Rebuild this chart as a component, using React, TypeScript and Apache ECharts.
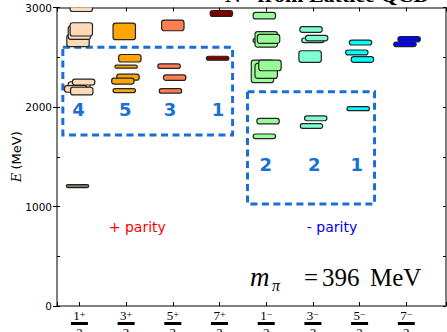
import React, { useEffect, useRef } from 'react';
import * as echarts from 'echarts';

// x-axis categories: J^P = numerator/2 with parity
const numerators = ['1', '3', '5', '7', '1', '3', '5', '7'];
const parities = ['+', '+', '+', '+', '−', '−', '−', '−'];

const palette: Record<string, string> = {
  ground: '#857a6a',
  peach: '#ffdab9',
  orange: '#ffa500',
  coral: '#ff7f50',
  maroon: '#800000',
  green: '#98fb98',
  aqua: '#7fffd4',
  cyan: '#00ffff',
  blue: '#0000ff',
};

// each level: [horizontal offset, energy (MeV), band height (MeV), colour]
const half1Plus: [number, number, number, string][] = [
  [-0.04, 1205, 30, 'ground'],
  [0, 2226, 56, 'peach'],
  [0.09, 2251, 60, 'peach'],
  [-0.08, 2181, 66, 'peach'],
  [0.05, 2160, 77, 'peach'],
  [-0.03, 2665, 118, 'peach'],
  [0, 2747, 134, 'peach'],
  [0.04, 2780, 133, 'peach'],
  [0.04, 3010, 100, 'peach'],
];
const half3Plus: [number, number, number, string][] = [
  [-0.04, 2760, 166, 'orange'],
  [0.08, 2490, 75, 'orange'],
  [0, 2405, 30, 'orange'],
  [0.04, 2300, 60, 'orange'],
  [-0.07, 2260, 60, 'orange'],
  [-0.04, 2165, 40, 'orange'],
];
const half5Plus: [number, number, number, string][] = [
  [0, 2820, 107, 'coral'],
  [-0.08, 2410, 45, 'coral'],
  [0.04, 2295, 55, 'coral'],
  [-0.05, 2162, 45, 'coral'],
];
const half7Plus: [number, number, number, string][] = [
  [0.04, 2940, 60, 'maroon'],
  [-0.04, 2490, 40, 'maroon'],
];
const half1Minus: [number, number, number, string][] = [
  [-0.04, 2918, 65, 'green'],
  [-0.04, 2668, 44, 'green'],
  [0, 2680, 157, 'green'],
  [0.05, 2685, 90, 'green'],
  [-0.08, 2358, 228, 'green'],
  [0, 2363, 151, 'green'],
  [0.08, 2418, 107, 'green'],
  [0.04, 1858, 57, 'green'],
  [-0.04, 1705, 47, 'green'],
];
const half3Minus: [number, number, number, string][] = [
  [-0.04, 2779, 56, 'aqua'],
  [0, 2670, 47, 'aqua'],
  [0.08, 2693, 55, 'aqua'],
  [-0.06, 2507, 117, 'aqua'],
  [0.06, 1886, 48, 'aqua'],
  [-0.03, 1809, 46, 'aqua'],
];
const half5Minus: [number, number, number, string][] = [
  [0.02, 2648, 50, 'cyan'],
  [-0.06, 2548, 50, 'cyan'],
  [0.06, 2477, 57, 'cyan'],
  [-0.03, 1983, 40, 'cyan'],
];
const half7Minus: [number, number, number, string][] = [
  [0.06, 2681, 51, 'blue'],
  [-0.03, 2630, 47, 'blue'],
];

const columns = [half1Plus, half3Plus, half5Plus, half7Plus, half1Minus, half3Minus, half5Minus, half7Minus];

// dashed boxes: [x1, E1, x2, E2]
const plusBox = [0.645, 1719, 4.28, 2600];
const minusBox = [4.6, 1025, 7.32, 2154];

// box counts
const countLabels = ['4', '5', '3', '1', '2', '2', '1'];
const countX = [0.98, 1.98, 2.94, 3.97, 4.99, 6.03, 6.94];
const countE = [1975, 1975, 1975, 1975, 1422, 1422, 1422];

// parity labels
const parityLabels = ['+ parity', '- parity'];
const parityColors = ['#ff0000', '#0000ff'];
const parityX = [2.24, 6.41];
const parityE = [794, 794];

const BOX_W = 0.48;
const BLUE = '#1a6ed8';
const colorKeys = Object.keys(palette);

export default function App() {
  const ref = useRef<HTMLDivElement>(null);
  useEffect(() => {
    if (!ref.current) return;
    const chart = echarts.init(ref.current, undefined, { renderer: 'svg' });

    const levelData: number[][] = [];
    columns.forEach((col, ci) => {
      col.forEach((l) => {
        levelData.push([ci + 1, l[0], l[1], l[2], colorKeys.indexOf(l[3])]);
      });
    });

    const xFormatter = (v: number) => {
      const i = Math.round(v);
      if (Math.abs(v - i) > 1e-6 || i < 1 || i > 8) return '';
      return `{n|${numerators[i - 1]}}{s|${parities[i - 1]}}\n{b| }\n{d|2}`;
    };

    const xCommon = {
      type: 'value',
      min: 0.52,
      max: 8.85,
      minInterval: 1,
      maxInterval: 1,
      splitLine: { show: false },
    };

    const option: any = {
      animation: false,
      backgroundColor: '#ffffff',
      grid: { left: 57, right: 1, top: 7.5, bottom: 26, containLabel: false, outerBoundsMode: 'none' },
      xAxis: [
        {
          ...xCommon,
          position: 'bottom',
          axisLine: { show: true, onZero: false, lineStyle: { color: '#555', width: 1.5 } },
          axisTick: { show: true, inside: true, length: 4, lineStyle: { color: '#000' } },
          axisLabel: {
            margin: 3,
            formatter: xFormatter,
            color: '#000',
            rich: {
              n: { fontFamily: 'Liberation Serif', fontSize: 13, lineHeight: 12 },
              s: { fontFamily: 'Liberation Serif', fontSize: 10, lineHeight: 12, verticalAlign: 'top' },
              b: { width: 17, height: 3, backgroundColor: '#000', fontSize: 1, lineHeight: 5 },
              d: { fontFamily: 'Liberation Serif', fontSize: 13, lineHeight: 12 },
            },
          },
        },
        {
          ...xCommon,
          position: 'top',
          axisLine: { show: true, onZero: false, lineStyle: { color: '#555', width: 1.5 } },
          axisTick: { show: true, inside: true, length: 4, lineStyle: { color: '#000' } },
          axisLabel: { show: false },
        },
      ],
      yAxis: [
        {
          type: 'value',
          min: 0,
          max: 3000,
          interval: 1000,
          position: 'left',
          splitLine: { show: false },
          axisLine: { show: true, onZero: false, lineStyle: { color: '#555', width: 1.5 } },
          axisTick: { show: true, inside: false, length: 4, lineStyle: { color: '#000' } },
          axisLabel: {
            margin: 5,
            color: '#000',
            fontFamily: 'DejaVu Sans',
            fontSize: 10.5,
            formatter: (v: number) => String(v),
          },
          name: '{e|E} {t|(MeV)}',
          nameLocation: 'middle',
          nameGap: 34,
          nameMoveOverlap: false,
          nameTextStyle: {
            rich: {
              e: { fontFamily: 'DejaVu Serif', fontStyle: 'italic', fontSize: 13, color: '#000' },
              t: { fontFamily: 'DejaVu Sans', fontSize: 13, color: '#000' },
            },
          },
        },
        {
          type: 'value',
          min: 0,
          max: 3000,
          interval: 500,
          position: 'right',
          splitLine: { show: false },
          axisLine: { show: true, onZero: false, lineStyle: { color: '#555', width: 1.5 } },
          axisTick: { show: true, inside: true, length: 3, lineStyle: { color: '#000' } },
          axisLabel: { show: false },
        },
        {
          type: 'value',
          min: 0,
          max: 3000,
          interval: 500,
          position: 'left',
          splitLine: { show: false },
          axisLine: { show: false, onZero: false },
          axisTick: { show: true, inside: true, length: 3, lineStyle: { color: '#000' } },
          axisLabel: { show: false },
        },
      ],
      series: [
        {
          type: 'custom',
          xAxisIndex: 0,
          yAxisIndex: 0,
          clip: true,
          data: [plusBox, minusBox],
          renderItem: (params: any, api: any) => {
            const p1 = api.coord([api.value(0), api.value(3)]);
            const p2 = api.coord([api.value(2), api.value(1)]);
            return {
              type: 'rect',
              shape: { x: p1[0], y: p1[1], width: p2[0] - p1[0], height: p2[1] - p1[1] },
              style: { fill: 'none', stroke: BLUE, lineWidth: 3, lineDash: [7, 4.5] },
            };
          },
        },
        {
          type: 'custom',
          xAxisIndex: 0,
          yAxisIndex: 0,
          clip: true,
          data: levelData,
          renderItem: (params: any, api: any) => {
            const x = api.value(0) + api.value(1);
            const e = api.value(2);
            const h = api.value(3);
            const p = api.coord([x, e]);
            const s = api.size([BOX_W, h]);
            const hh = Math.max(s[1], 3);
            return {
              type: 'rect',
              shape: { x: p[0] - s[0] / 2, y: p[1] - hh / 2, width: s[0], height: hh, r: 2.5 },
              style: { fill: palette[colorKeys[api.value(4)]], stroke: '#222', lineWidth: 1.2 },
            };
          },
        },
        {
          type: 'custom',
          xAxisIndex: 0,
          yAxisIndex: 0,
          data: countLabels.map((_, i) => [countX[i], countE[i], i]),
          renderItem: (params: any, api: any) => {
            const p = api.coord([api.value(0), api.value(1)]);
            return {
              type: 'text',
              x: p[0],
              y: p[1],
              style: {
                text: countLabels[api.value(2)],
                fill: BLUE,
                fontFamily: 'DejaVu Sans',
                fontWeight: 'bold',
                fontSize: 18,
                align: 'center',
                verticalAlign: 'middle',
              },
            };
          },
        },
        {
          type: 'custom',
          xAxisIndex: 0,
          yAxisIndex: 0,
          data: parityLabels.map((_, i) => [parityX[i], parityE[i], i]),
          renderItem: (params: any, api: any) => {
            const p = api.coord([api.value(0), api.value(1)]);
            const i = api.value(2);
            return {
              type: 'text',
              x: p[0],
              y: p[1],
              style: {
                text: parityLabels[i],
                fill: parityColors[i],
                fontFamily: 'DejaVu Sans',
                fontSize: 14,
                align: 'center',
                verticalAlign: 'middle',
              },
            };
          },
        },
      ],
      graphic: [
        {
          type: 'text',
          x: 225,
          y: 5,
          z: 100,
          style: {
            text: 'N* from Lattice QCD',
            fill: '#000',
            fontFamily: 'Liberation Serif',
            fontWeight: 'bold',
            fontSize: 22,
            align: 'left',
            verticalAlign: 'bottom',
          },
        },
        {
          type: 'text',
          x: 250,
          y: 277,
          style: { text: 'm', fill: '#000', fontFamily: 'Liberation Serif', fontStyle: 'italic', fontSize: 27, align: 'left', verticalAlign: 'middle' },
        },
        {
          type: 'text',
          x: 272,
          y: 285,
          style: { text: 'π', fill: '#000', fontFamily: 'Liberation Serif', fontStyle: 'italic', fontSize: 16, align: 'left', verticalAlign: 'middle' },
        },
        {
          type: 'text',
          x: 304,
          y: 277,
          style: { text: '=', fill: '#000', fontFamily: 'Liberation Serif', fontSize: 25, align: 'left', verticalAlign: 'middle' },
        },
        {
          type: 'text',
          x: 322,
          y: 277,
          style: { text: '396', fill: '#000', fontFamily: 'Liberation Serif', fontSize: 25, align: 'left', verticalAlign: 'middle' },
        },
        {
          type: 'text',
          x: 370,
          y: 277,
          style: { text: 'MeV', fill: '#000', fontFamily: 'Liberation Serif', fontSize: 25, align: 'left', verticalAlign: 'middle' },
        },
      ],
    };

    chart.setOption(option);
    return () => chart.dispose();
  }, []);

  return (
    <div
      ref={ref}
      style={{ position: 'absolute', left: 0, top: 0, width: 447, height: 332, background: '#fff' }}
    />
  );
}
